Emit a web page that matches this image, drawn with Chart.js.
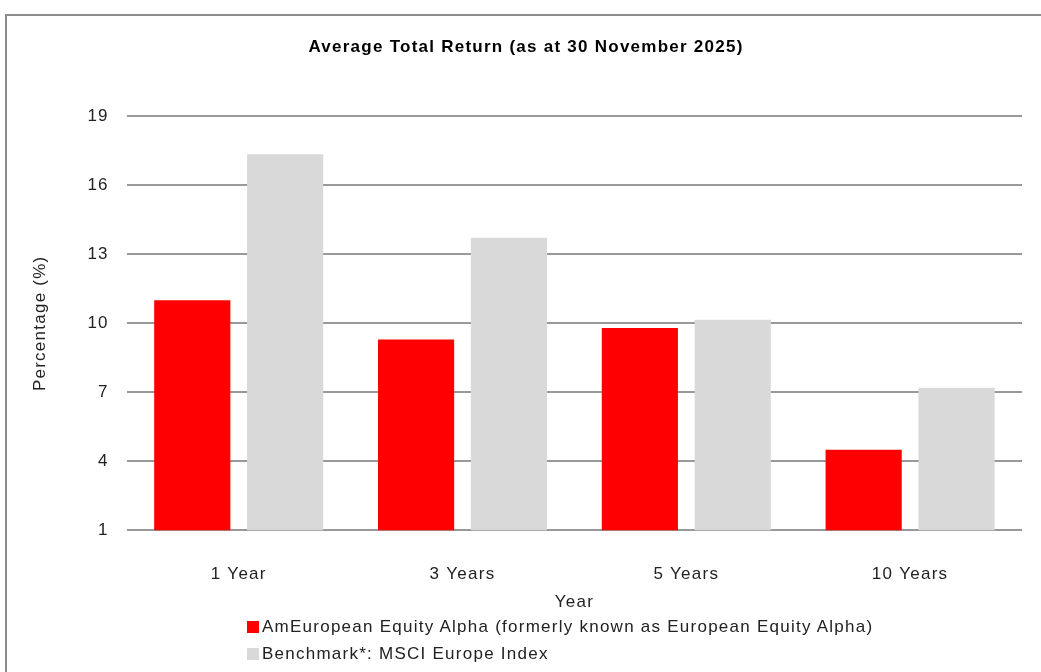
<!DOCTYPE html>
<html>
<head>
<meta charset="utf-8">
<script src="https://cdn.jsdelivr.net/npm/chart.js@4.4.1/dist/chart.umd.min.js"></script>
<style>
  html, body { margin: 0; padding: 0; background: #fff; overflow: hidden; }
  body { width: 1041px; height: 672px; position: relative; font-family: 'Liberation Sans', Arial, sans-serif; }
  .frame { position: absolute; left: 5px; top: 14px; width: 1060px; height: 700px; border: 2px solid #8c8c8c; pointer-events: none; }
  .wrap { position: absolute; left: 0; top: 0; width: 1041px; height: 615px; }
  .legend { position: absolute; left: 247px; top: 613px; font-size: 17px; letter-spacing: 1.25px; color: #222; }
  .legend .row { display: flex; align-items: center; height: 27px; }
  .legend .sw { width: 12px; height: 12px; margin-right: 3px; }
</style>
</head>
<body>
<div class="frame"></div>
<div class="wrap"><canvas id="returnChart"></canvas></div>
<div class="legend" id="legend"></div>
<script>
/* ── DATA ── */
const categories      = ['1 Year', '3 Years', '5 Years', '10 Years'];
const fundLabel       = 'AmEuropean Equity Alpha (formerly known as European Equity Alpha)';
const benchLabel      = 'Benchmark*: MSCI Europe Index';
const fundValues      = [11.0, 9.3, 9.8, 4.5];
const benchValues     = [17.35, 13.72, 10.15, 7.2];
const yMin = 1, yMax = 19, yStep = 3;

const FONT = "'Liberation Sans', Arial, sans-serif";

const datasets = [
  { label: fundLabel,  data: fundValues,  backgroundColor: '#ff0000' },
  { label: benchLabel, data: benchValues, backgroundColor: '#d9d9d9' },
];

// the source renders its text with loose tracking; canvas state resets on resize, so set it each pass
const spacing = {
  id: 'spacing',
  beforeLayout(chart) { chart.ctx.letterSpacing = '1.25px'; },
  beforeDraw(chart)   { chart.ctx.letterSpacing = '1.25px'; },
};

/* ── CHART ── */
new Chart(document.getElementById('returnChart').getContext('2d'), {
  type: 'bar',
  data: {
    labels: categories,
    datasets: datasets.map(d => ({ ...d, borderWidth: 0, categoryPercentage: 0.83, barPercentage: 0.82 })),
  },
  plugins: [spacing],
  options: {
    responsive: true,
    maintainAspectRatio: false,
    animation: false,
    layout: { padding: { top: 37, right: 19, bottom: 2, left: 30 } },
    plugins: {
      legend: { display: false },
      tooltip: { enabled: false },
      title: {
        display: true,
        text: 'Average Total Return (as at 30 November 2025)',
        color: '#000',
        font: { family: FONT, size: 17, weight: 'bold' },
        padding: { top: 0, bottom: 59 },
      },
    },
    scales: {
      x: {
        // tick gap comes from tickLength (counted once), labels padding 0
        grid: { display: false, drawTicks: true, tickLength: 34 },
        border: { display: false },
        ticks: { color: '#222', font: { family: FONT, size: 17 }, padding: 0 },
        title: { display: true, text: 'Year', color: '#222', font: { family: FONT, size: 17 }, padding: { top: 8, bottom: 0 } },
      },
      y: {
        min: yMin,
        max: yMax,
        ticks: { stepSize: yStep, color: '#222', font: { family: FONT, size: 17 }, padding: 18 },
        grid: { color: '#999', lineWidth: 2, drawTicks: false },
        border: { display: false },
        title: { display: true, text: 'Percentage (%)', color: '#222', font: { family: FONT, size: 17 }, padding: { top: 0, bottom: 19 } },
      },
    },
  },
});

/* ── LEGEND ── */
document.getElementById('legend').innerHTML = datasets.map(d => `
  <div class="row"><span class="sw" style="background:${d.backgroundColor}"></span>${d.label}</div>`).join('');
</script>
</body>
</html>
